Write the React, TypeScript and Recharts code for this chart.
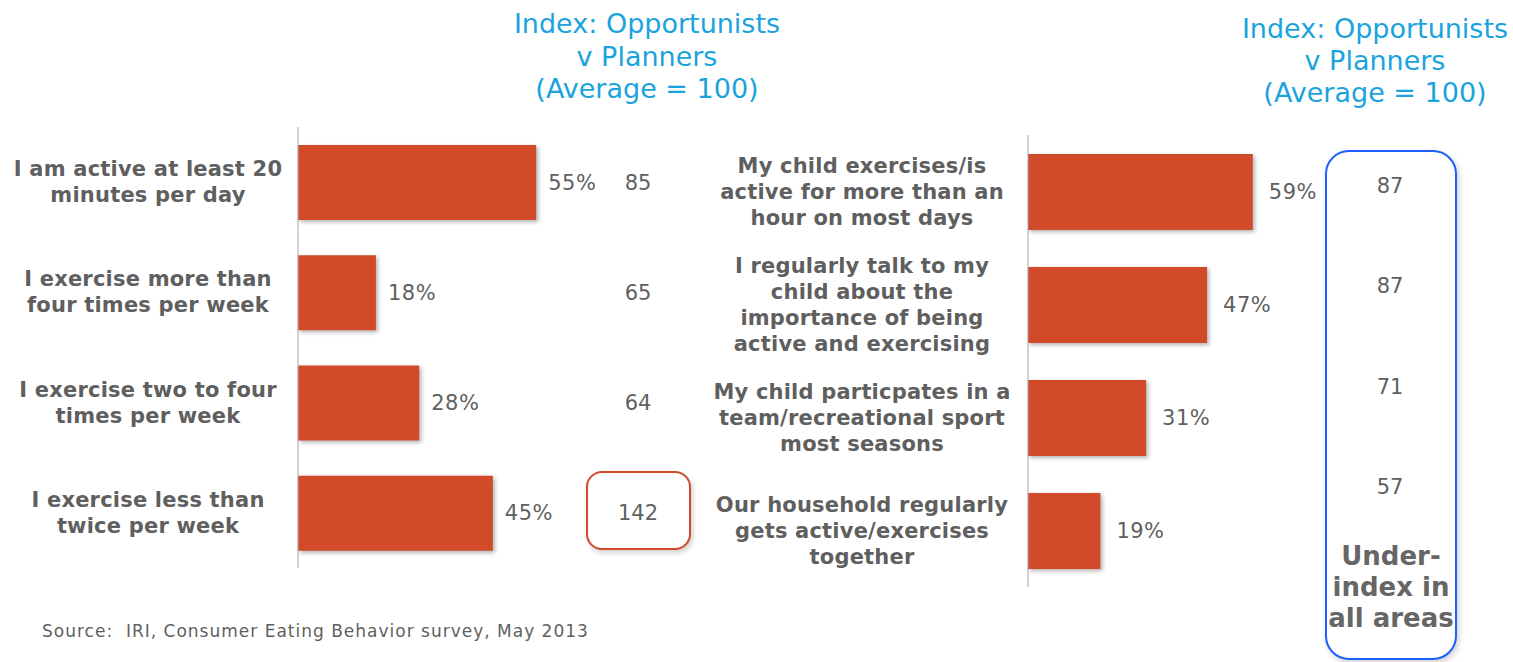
import React from "react";
import { BarChart, Bar, XAxis, YAxis, LabelList } from "recharts";

const leftCategories = [
  "I am active at least 20\nminutes per day",
  "I exercise more than\nfour times per week",
  "I exercise two to four\ntimes per week",
  "I exercise less than\ntwice per week",
];
const leftValues = [55, 18, 28, 45];
const leftIndex = [85, 65, 64, 142];

const rightCategories = [
  "My child exercises/is\nactive for more than an\nhour on most days",
  "I regularly talk to my\nchild about the\nimportance of being\nactive and exercising",
  "My child particpates in a\nteam/recreational sport\nmost seasons",
  "Our household regularly\ngets active/exercises\ntogether",
];
const rightValues = [59, 47, 31, 19];
const rightIndex = [87, 87, 71, 57];

const titleLines = ["Index: Opportunists", "v Planners", "(Average = 100)"];
const sourceText = "Source:  IRI, Consumer Eating Behavior survey, May 2013";
const noteLines = ["Under-", "index in", "all areas"];

const FONT = "'DejaVu Sans', Verdana, sans-serif";
const GREY = "#5f5f5f";
const BAR = "#d14b2b";
const TITLE = "#1aa3dc";

const leftData = leftCategories.map((label, i) => ({ label, value: leftValues[i], index: leftIndex[i] }));
const rightData = rightCategories.map((label, i) => ({ label, value: rightValues[i], index: rightIndex[i] }));

const makeTick = (centerX: number, size: number, lh: number) => (props: any) => {
  const { y, payload } = props;
  const lines = String(payload.value).split("\n");
  const startDy = -((lines.length - 1) * lh) / 2;
  return (
    <text x={centerX} y={y} textAnchor="middle" fill={GREY} fontFamily={FONT} fontWeight="bold" fontSize={size} letterSpacing={0.2} dominantBaseline="central">
      {lines.map((l, i) => (
        <tspan key={i} x={centerX} dy={i === 0 ? startDy : lh}>
          {l}
        </tspan>
      ))}
    </text>
  );
};

const ShadowBar = (props: any) => {
  const { x, y, width, height, fill } = props;
  return <rect x={x} y={y} width={width} height={height} fill={fill} style={{ filter: "drop-shadow(2px 2px 2px rgba(0,0,0,0.3))" }} />;
};

const pctLabel = (offset: number) => (props: any) => {
  const { x, y, width, height, value } = props;
  return (
    <text x={x + width + offset} y={y + height / 2} fill={GREY} fontFamily={FONT} fontSize={21} letterSpacing={0.5} dominantBaseline="central">
      {value}%
    </text>
  );
};

const leftIndexLabel = (props: any) => {
  const { x, y, height, value } = props;
  return (
    <text x={x + 340} y={y + height / 2} fill={GREY} fontFamily={FONT} fontSize={21} textAnchor="middle" dominantBaseline="central">
      {value}
    </text>
  );
};

export default function App() {
  return (
    <div style={{ position: "absolute", left: 0, top: 0, width: 1513, height: 662, background: "#fff", fontFamily: FONT, overflow: "hidden" }}>
      {/* Titles */}
      <div style={{ position: "absolute", left: 447, top: 8, width: 400, textAlign: "center", color: TITLE, fontSize: 27, lineHeight: "32.5px" }}>
        {titleLines.map((t, i) => (
          <div key={i}>{t}</div>
        ))}
      </div>
      <div style={{ position: "absolute", left: 1175, top: 13, width: 400, textAlign: "center", color: TITLE, fontSize: 27, lineHeight: "32px" }}>
        {titleLines.map((t, i) => (
          <div key={i}>{t}</div>
        ))}
      </div>

      {/* Left highlight box */}
      <div style={{ position: "absolute", left: 586, top: 471, width: 101, height: 75, border: "2px solid #d24a2a", borderRadius: 16, boxShadow: "2px 3px 5px rgba(0,0,0,0.18)", background: "#fff" }} />

      {/* Right highlight box */}
      <div style={{ position: "absolute", left: 1325, top: 150, width: 128, height: 506, border: "2px solid #1f5eff", borderRadius: 24, boxShadow: "2px 3px 6px rgba(0,0,0,0.18)", background: "#fff" }} />

      {/* Left chart */}
      <div style={{ position: "absolute", left: 0, top: 0 }}>
        <BarChart width={760} height={600} data={leftData} layout="vertical" margin={{ top: 127, right: 29, bottom: 32, left: 0 }}>
          <XAxis type="number" domain={[0, 100]} hide />
          <YAxis type="category" dataKey="label" width={298} axisLine={{ stroke: "#a6a6a6" }} tickLine={false} tick={makeTick(148, 21, 26)} interval={0} />
          <Bar dataKey="value" fill={BAR} barSize={75} isAnimationActive={false} shape={ShadowBar}>
            <LabelList dataKey="value" content={pctLabel(12)} />
            <LabelList dataKey="index" content={leftIndexLabel} />
          </Bar>
        </BarChart>
      </div>

      {/* Right chart */}
      <div style={{ position: "absolute", left: 700, top: 0 }}>
        <BarChart width={813} height={620} data={rightData} layout="vertical" margin={{ top: 135, right: 104, bottom: 33, left: 0 }}>
          <XAxis type="number" domain={[0, 100]} hide />
          <YAxis type="category" dataKey="label" width={328} axisLine={{ stroke: "#a6a6a6" }} tickLine={false} tick={makeTick(162, 21, 26)} interval={0} />
          <Bar dataKey="value" fill={BAR} barSize={76} isAnimationActive={false} shape={ShadowBar}>
            <LabelList dataKey="value" content={pctLabel(16)} />
          </Bar>
        </BarChart>
      </div>

      {/* Right index column */}
      {rightIndex.map((v, i) => (
        <div key={i} style={{ position: "absolute", left: 1340, width: 100, top: 173 + i * 100.3, textAlign: "center", color: GREY, fontSize: 21, lineHeight: "26px" }}>
          {v}
        </div>
      ))}

      {/* Note */}
      <div style={{ position: "absolute", left: 1316, top: 541, width: 150, textAlign: "center", color: "#666", fontSize: 26, fontWeight: "bold", lineHeight: "31px" }}>
        {noteLines.map((t, i) => (
          <div key={i}>{t}</div>
        ))}
      </div>

      {/* Source */}
      <div style={{ position: "absolute", left: 42, top: 620, color: GREY, fontSize: 17, letterSpacing: 1, lineHeight: "22px", whiteSpace: "pre" }}>{sourceText}</div>
    </div>
  );
}
